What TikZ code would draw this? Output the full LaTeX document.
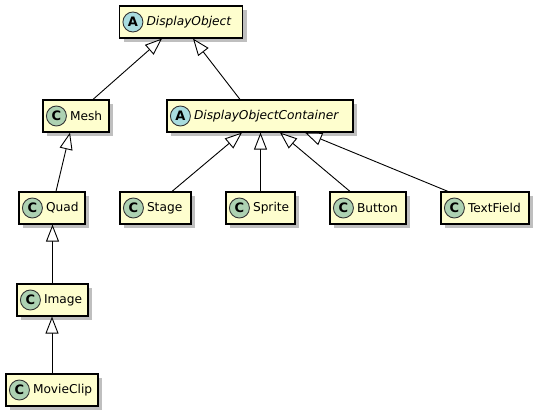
\documentclass[tikz,border=0pt]{standalone}
\usepackage{fontspec}
\setmainfont{DejaVu Sans}
\usetikzlibrary{arrows.meta,shadows}
\definecolor{clsfill}{HTML}{FEFECE}
\definecolor{concretec}{HTML}{ADD1B2}
\definecolor{abstractc}{HTML}{A9DCDF}
\tikzset{
	cls/.style={rectangle,draw=black,line width=1.15pt,fill=clsfill,align=left,
		minimum height=32pt,inner xsep=0pt,inner ysep=0pt,
		font=\fontsize{12.2}{14}\selectfont,
		drop shadow={shadow xshift=4pt,shadow yshift=-4pt,fill=black!50,opacity=.5}},
	badge/.style={circle,draw=black!80,line width=.9pt,minimum size=20pt,inner sep=0pt,
		font=\fontsize{13}{13}\bfseries\selectfont},
	ext/.style={line width=.9pt,-{Triangle[length=17pt,width=13pt,fill=white,line width=.9pt]}}
}
\begin{document}
\begin{tikzpicture}[x=1pt,y=-1pt]
			\path[fill=white] (0,0) rectangle (540,419);
			\useasboundingbox (0,0) rectangle (540,419);
			\begin{scope}[every node/.style={cls}]
				\node[text width=123pt] (dobj) at (181,22) {\hspace*{27pt}\textit{DisplayObject}};
				\node[text width=66pt] (mesh) at (76,116) {\hspace*{27pt}Mesh};
				\node[text width=186pt] (doc) at (260,116) {\hspace*{27pt}\textit{DisplayObjectContainer}};
				\node[text width=66pt] (quad) at (52,208) {\hspace*{27pt}Quad};
				\node[text width=71pt] (stage) at (155.5,208) {\hspace*{27pt}Stage};
				\node[text width=69pt] (sprite) at (260.5,208) {\hspace*{27pt}Sprite};
				\node[text width=76pt] (button) at (368,208) {\hspace*{27pt}Button};
				\node[text width=88pt] (textfield) at (485,208) {\hspace*{27pt}TextField};
				\node[text width=71pt] (image) at (52.5,300) {\hspace*{27pt}Image};
				\node[text width=92pt] (movieclip) at (52,390) {\hspace*{27pt}MovieClip};
			\end{scope}
			\begin{scope}[every node/.style={badge}]
				\node[fill=abstractc] (dobj-b) at ([xshift=14pt]dobj.west) {A};
				\node[fill=concretec] (mesh-b) at ([xshift=14pt]mesh.west) {C};
				\node[fill=abstractc] (doc-b) at ([xshift=14pt]doc.west) {A};
				\node[fill=concretec] (quad-b) at ([xshift=14pt]quad.west) {C};
				\node[fill=concretec] (stage-b) at ([xshift=14pt]stage.west) {C};
				\node[fill=concretec] (sprite-b) at ([xshift=14pt]sprite.west) {C};
				\node[fill=concretec] (button-b) at ([xshift=14pt]button.west) {C};
				\node[fill=concretec] (textfield-b) at ([xshift=14pt]textfield.west) {C};
				\node[fill=concretec] (image-b) at ([xshift=14pt]image.west) {C};
				\node[fill=concretec] (movieclip-b) at ([xshift=14pt]movieclip.west) {C};
			\end{scope}
			\begin{scope}[every path/.style={ext}]
				\draw ([xshift=17pt]mesh.north) -- ([xshift=-19pt]dobj.south);
				\draw ([xshift=-20pt]doc.north) -- ([xshift=12pt]dobj.south);
				\draw ([xshift=4pt]quad.north) -- ([xshift=-6pt]mesh.south);
				\draw (image.north) -- (image.north |- quad.south);
				\draw (movieclip.north) -- (movieclip.north |- image.south);
				\draw ([xshift=16.5pt]stage.north) -- ([xshift=-18pt]doc.south);
				\draw (sprite.north) -- (sprite.north |- doc.south);
				\draw ([xshift=-18pt]button.north) -- ([xshift=20pt]doc.south);
				\draw ([xshift=-37pt]textfield.north) -- ([xshift=45pt]doc.south);
			\end{scope}
		\end{tikzpicture}
\end{document}
